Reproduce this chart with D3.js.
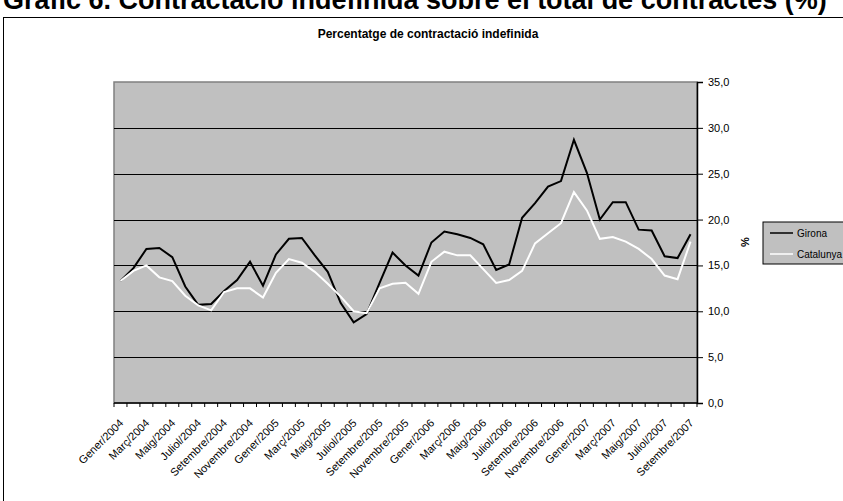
<!DOCTYPE html>
<html><head><meta charset="utf-8">
<script src="https://cdn.jsdelivr.net/npm/d3@7"></script>
<style>html,body{margin:0;padding:0;background:#fff;overflow:hidden}svg{display:block;font-family:Arial,"Liberation Sans",sans-serif}</style>
</head><body>
<script>
const months = ["Gener","Febrer","Març","Abril","Maig","Juny","Juliol","Agost","Setembre","Octubre","Novembre","Desembre"];
const years = [2004, 2005, 2006, 2007];
const categories = [];
years.forEach(y => months.forEach(m => { if (categories.length < 45) categories.push(m + "/" + y); }));
const girona = [13.3,14.7,16.8,16.9,15.9,12.7,10.7,10.8,12.2,13.4,15.4,12.8,16.2,17.9,18.0,16.1,14.3,10.9,8.8,9.7,13.1,16.4,15.0,13.9,17.5,18.7,18.4,18.0,17.3,14.5,15.1,20.2,21.8,23.6,24.2,28.7,25.1,20.0,21.9,21.9,18.9,18.8,16.0,15.8,18.4];
const catalunya = [13.3,14.4,15.0,13.7,13.3,11.7,10.65,10.1,12.1,12.5,12.5,11.5,14.2,15.7,15.3,14.3,13.0,11.6,10.0,9.8,12.5,13.0,13.1,11.9,15.4,16.5,16.1,16.1,14.6,13.1,13.4,14.4,17.4,18.5,19.6,23.0,21.0,17.9,18.1,17.6,16.8,15.7,13.9,13.5,17.6];
const yTicks = [0,5,10,15,20,25,30,35];
const seriesNames = ["Girona","Catalunya"];
const seriesColors = ["#000000","#ffffff"];

const W = 843, H = 501;
const svg = d3.select("body").append("svg").attr("width", W).attr("height", H);

// top heading, cut off by the page edge as in the reference
svg.append("text").attr("x", 3).attr("y", 9).attr("font-size", 27).attr("font-weight", "bold")
  .text("Gràfic 6. Contractació indefinida sobre el total de contractes (%)");

// outer frame
svg.append("rect").attr("x", 3.5).attr("y", 17.5).attr("width", 900).attr("height", 600)
  .attr("fill", "none").attr("stroke", "#000").attr("stroke-width", 1);

const L = 114, R = 697, T = 82, B = 403;
const x = d3.scaleBand().domain(categories).range([L, R]).padding(0);
const y = d3.scaleLinear().domain([0, 35]).range([B, T]);

// title
svg.append("text").attr("x", 428).attr("y", 38).attr("text-anchor", "middle")
  .attr("font-size", 12).attr("font-weight", "bold").text("Percentatge de contractació indefinida");

// plot area
svg.append("rect").attr("x", L).attr("y", T).attr("width", R - L).attr("height", B - T)
  .attr("fill", "#c0c0c0").attr("stroke", "#808080").attr("stroke-width", 1.5);

// gridlines
svg.append("g").selectAll("line").data(yTicks.filter(d => d > 0 && d < 35)).join("line")
  .attr("x1", L).attr("x2", R).attr("y1", d => Math.round(y(d)) + 0.5).attr("y2", d => Math.round(y(d)) + 0.5)
  .attr("stroke", "#000").attr("stroke-width", 1.2);

// right y axis
const yAxis = d3.axisRight(y).tickValues(yTicks).tickSize(6).tickPadding(5)
  .tickFormat(d => d3.format(".1f")(d).replace(".", ","));
const gy = svg.append("g").attr("transform", `translate(${R},0)`).call(yAxis);
gy.select(".domain").attr("stroke", "#000").attr("stroke-width", 1.5);
gy.selectAll(".tick line").attr("stroke", "#000");
gy.selectAll("text").attr("font-size", 11).attr("fill", "#000").attr("font-family", "Arial, 'Liberation Sans', sans-serif");

svg.append("text").attr("transform", "translate(749,242) rotate(-90)").attr("text-anchor", "middle")
  .attr("font-size", 11).attr("font-weight", "bold").text("%");

// x axis
const gx = svg.append("g").attr("transform", `translate(0,${B})`);
gx.append("line").attr("x1", L).attr("x2", R).attr("y1", 0).attr("y2", 0).attr("stroke", "#000").attr("stroke-width", 1.5);
gx.selectAll("line.tk").data(d3.range(categories.length + 1)).join("line").attr("class", "tk")
  .attr("x1", i => L + i * x.bandwidth()).attr("x2", i => L + i * x.bandwidth())
  .attr("y1", 0).attr("y2", 4).attr("stroke", "#000");
gx.selectAll("text").data(categories.filter((d, i) => i % 2 === 0)).join("text")
  .attr("transform", d => `translate(${x(d) + x.bandwidth() / 2 + 1},${18}) rotate(-45)`)
  .attr("text-anchor", "end").attr("dy", "0.35em").attr("font-size", 11).text(d => d);

// lines
const line = d3.line().x((d, i) => x(categories[i]) + x.bandwidth() / 2).y(d => y(d));
[girona, catalunya].forEach((s, k) => {
  svg.append("path").datum(s).attr("d", line).attr("fill", "none")
    .attr("stroke", seriesColors[k]).attr("stroke-width", 2).attr("stroke-linejoin", "miter");
});

// legend
const lg = svg.append("g").attr("transform", "translate(763,222)");
lg.append("rect").attr("x", 0).attr("y", 0).attr("width", 90).attr("height", 42)
  .attr("fill", "#c0c0c0").attr("stroke", "#000").attr("stroke-width", 1);
seriesNames.forEach((n, k) => {
  const yy = 11 + k * 21;
  lg.append("line").attr("x1", 7).attr("x2", 30).attr("y1", yy).attr("y2", yy)
    .attr("stroke", seriesColors[k]).attr("stroke-width", 1.5);
  lg.append("text").attr("x", 34).attr("y", yy).attr("dy", "0.35em").attr("font-size", 10).text(n);
});
</script>
</body></html>
